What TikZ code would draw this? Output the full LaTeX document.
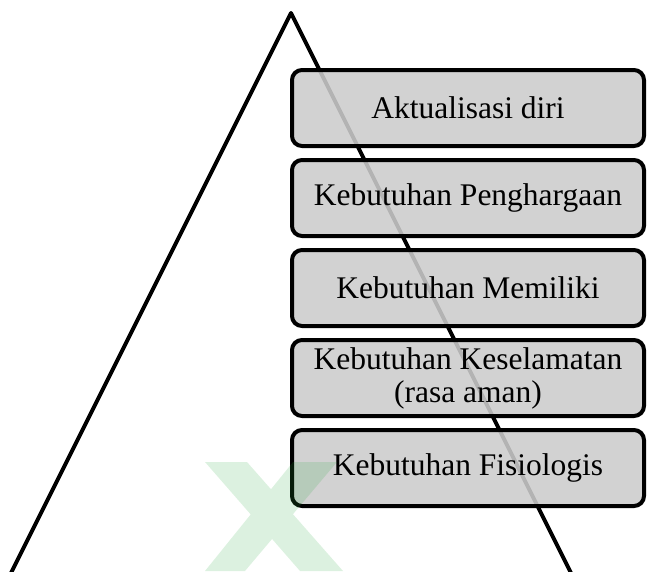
\documentclass[tikz,border=0pt]{standalone}
\usepackage{fontspec}
\setmainfont{Liberation Serif}
\definecolor{boxgray}{RGB}{204,204,204}
\definecolor{wmgreen}{RGB}{40,170,60}
\begin{document}
\begin{tikzpicture}[x=1pt,y=-1pt,
  level/.style={draw=black, line width=4pt, rounded corners=10pt,
    fill=boxgray, fill opacity=0.88, text opacity=1,
    minimum width=352pt, minimum height=76pt, inner sep=0pt,
    align=center, font=\fontsize{31.5}{33}\selectfont},
  edge/.style={line width=4pt, line join=round}]
\useasboundingbox (0,0) rectangle (648,571);
\clip (0,0) rectangle (648,571);
\coordinate (apex) at (291,13);
\coordinate (bl) at (7.5,580);
\coordinate (br) at (574.5,580);
\draw[edge] (bl) -- (apex) -- (br);
\node[level] (n1) at (468,108) {Aktualisasi diri};
\node[level] (n2) at (468,198) {Kebutuhan Penghargaan};
\node[level] (n3) at (468,288) {Kebutuhan Memiliki};
\node[level] (n4) at (468,378) {Kebutuhan Keselamatan\\(rasa aman)};
\node[level] (n5) at (468,468) {Kebutuhan Fisiologis};
\fill[wmgreen, fill opacity=0.16, nonzero rule]
  (205,462) -- (247,462) -- (343,571) -- (300,571) -- cycle
  (293,462) -- (337,462) -- (245,571) -- (205,571) -- cycle;
\end{tikzpicture}
\end{document}
